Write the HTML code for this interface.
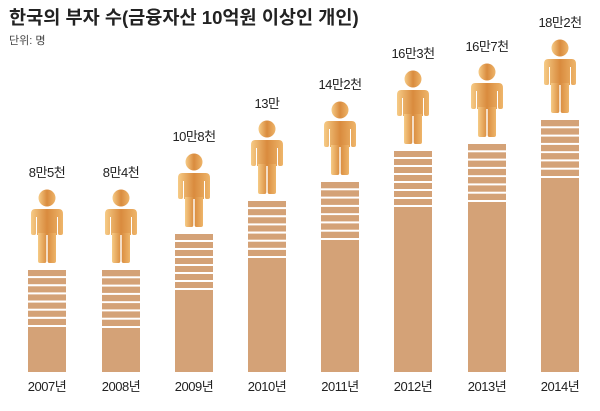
<!DOCTYPE html>
<html><head><meta charset="utf-8"><style>
body{margin:0;background:#fff;width:600px;height:406px;overflow:hidden;font-family:"Liberation Sans","Noto Sans CJK KR",sans-serif}
</style></head><body>
<svg width="600" height="406" xmlns="http://www.w3.org/2000/svg">
<defs>
<linearGradient id="g" x1="0" x2="1" y1="0" y2="0">
<stop offset="0" stop-color="#f6cb86"/><stop offset="0.5" stop-color="#d98b3e"/><stop offset="1" stop-color="#eeb56a"/>
</linearGradient>
<g id="p">
<circle cx="17" cy="9" r="8.5" fill="url(#g)"/>
<path d="M5 20 H29 Q33 20 33 25 V44 Q33 46 31 46 H29.5 Q28 46 28 44 V28 H27 V46 H7 V28 H6 V44 Q6 46 4.5 46 H3 Q1 46 1 44 V25 Q1 20 5 20 Z" fill="url(#g)"/>
<path d="M8 44 H16.3 V72 Q16.3 74 14.5 74 H10 Q8 74 8 72 Z M17.7 44 H26 V72 Q26 74 24 74 H19.5 Q17.7 74 17.7 72 Z" fill="url(#g)"/>
</g>
</defs>
<text x="9" y="24" font-size="18.6" font-weight="bold" fill="#222">한국의 부자 수(금융자산 10억원 이상인 개인)</text>
<text x="9" y="44" font-size="11" fill="#444">단위: 명</text>
<g id="bars"></g>
</svg>
<script>
var d=[[28,270,327,"8만5천","2007년"],[102,270,328,"8만4천","2008년"],[175,234,290,"10만8천","2009년"],[248,201,258,"13만","2010년"],[321,182,240,"14만2천","2011년"],[394,151,207,"16만3천","2012년"],[468,144,202,"16만7천","2013년"],[541,120,178,"18만2천","2014년"]];
var s="";
d.forEach(function(b){
 var x=b[0],t=b[1],st=b[2],cx=x+19;
 var pitch=(st-t)/7;
 for(var i=0;i<7;i++){s+='<rect x="'+x+'" y="'+(t+i*pitch).toFixed(1)+'" width="38" height="'+(pitch-2).toFixed(1)+'" fill="#d4a277"/>';}
 s+='<rect x="'+x+'" y="'+st+'" width="38" height="'+(372-st)+'" fill="#d4a277"/>';
 s+='<use href="#p" x="'+(cx-17)+'" y="'+(t-81)+'"/>';
 s+='<text x="'+cx+'" y="'+(t-93)+'" font-size="13" text-anchor="middle" fill="#222" letter-spacing="-0.5">'+b[3]+'</text>';
 s+='<text x="'+cx+'" y="391" font-size="13" text-anchor="middle" fill="#222" letter-spacing="-0.5">'+b[4]+'</text>';
});
document.getElementById("bars").innerHTML=s;
</script>
</body></html>
